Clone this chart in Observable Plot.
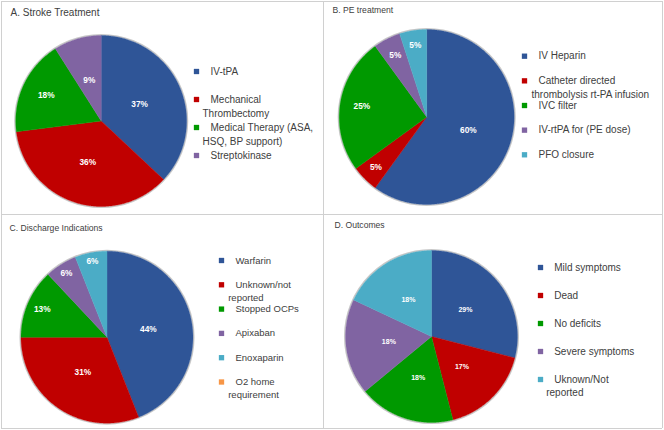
<!DOCTYPE html>
<html><head><meta charset="utf-8">
<script src="https://cdn.jsdelivr.net/npm/d3@7"></script>
<script src="https://cdn.jsdelivr.net/npm/@observablehq/plot@0.6"></script>
<style>html,body{margin:0;padding:0;background:#fff} svg{display:block}</style>
</head><body><div id="chart"></div>
<script>
// ---------- data ----------
const strokeTitle = "A. Stroke Treatment";
const strokeCategories = ["IV-tPA", "Mechanical Thrombectomy", "Medical Therapy (ASA, HSQ, BP support)", "Streptokinase"];
const strokeLegendLabels = ["IV-tPA", "Mechanical\nThrombectomy", "Medical Therapy (ASA,\nHSQ, BP support)", "Streptokinase"];
const strokeValues = [37, 36, 18, 9];

const peTitle = "B. PE treatment";
const peCategories = ["IV Heparin", "Catheter directed thrombolysis rt-PA infusion", "IVC filter", "IV-rtPA for (PE dose)", "PFO closure"];
const peLegendLabels = ["IV Heparin", "Catheter directed\nthrombolysis rt-PA infusion", "IVC filter", "IV-rtPA for (PE dose)", "PFO closure"];
const peValues = [60, 5, 25, 5, 5];

const dischargeTitle = "C. Discharge Indications";
const dischargeCategories = ["Warfarin", "Unknown/not reported", "Stopped OCPs", "Apixaban", "Enoxaparin", "O2 home requirement"];
const dischargeLegendLabels = ["Warfarin", "Unknown/not\nreported", "Stopped OCPs", "Apixaban", "Enoxaparin", "O2 home\nrequirement"];
const dischargeValues = [44, 31, 13, 6, 6, 0];

const outcomeTitle = "D. Outcomes";
const outcomeCategories = ["Mild symptoms", "Dead", "No deficits", "Severe symptoms", "Uknown/Not reported"];
const outcomeLegendLabels = ["Mild symptoms", "Dead", "No deficits", "Severe symptoms", "Uknown/Not\nreported"];
const outcomeValues = [29, 17, 18, 18, 18];

const palette = ["#2F5597", "#C00000", "#009900", "#8064A2", "#4BACC6", "#F79646"];

// ---------- layout (not data) ----------
const W = 664, H = 430;
const FONT = "'Liberation Sans', Arial, sans-serif";
const panels = [
  {title: strokeTitle, cats: strokeCategories, legend: strokeLegendLabels, values: strokeValues,
   cx: 100.7, cy: 120.5, r: 85.5, tx: 10, ty: 12, tSize: 10, lSize: 8.3, labelR: [0.49, 0.51, 0.71, 0.5],
   mx: 196, textX: 210, wrapX: 202, y0: 71, step: 28, lineH: 14, size: 10},
  {title: peTitle, cats: peCategories, legend: peLegendLabels, values: peValues,
   cx: 426.2, cy: 116.5, r: 87.5, tx: 332, ty: 10, tSize: 8.6, lSize: 8.3, labelR: [0.5, 0.82, 0.75, 0.79, 0.83],
   mx: 524, textX: 538, wrapX: 531, y0: 55.7, step: 24.65, lineH: 13.6, size: 10},
  {title: dischargeTitle, cats: dischargeCategories, legend: dischargeLegendLabels, values: dischargeValues,
   cx: 106.5, cy: 336.7, r: 86, tx: 9, ty: 227.5, tSize: 8.6, lSize: 8.3, labelR: [0.49, 0.5, 0.82, 0.88, 0.9, 0.9],
   mx: 221, textX: 235, wrapX: 227.7, y0: 260, step: 24.3, lineH: 12.8, size: 9.5},
  {title: outcomeTitle, cats: outcomeCategories, legend: outcomeLegendLabels, values: outcomeValues,
   cx: 431, cy: 336, r: 86, tx: 334, ty: 224.5, tSize: 8.6, lSize: 7, labelR: [0.5, 0.5, 0.5, 0.5, 0.5],
   mx: 540, textX: 553.7, wrapX: 545.7, y0: 267, step: 28, lineH: 13.7, size: 10}
];

// ---------- derive marks data from the arrays ----------
const sliceRows = [], labelRows = [], legendMarkers = [], legendTexts = [], titles = [], rims = [];
panels.forEach((p, pi) => {
  const arcs = d3.pie().sort(null).value(d => d)(p.values);
  rims.push({x: p.cx, y: p.cy, r: p.r});
  titles.push({x: p.tx, y: p.ty, text: p.title, size: p.tSize});
  arcs.forEach((a, i) => {
    const key = pi + "-" + i;
    if (a.endAngle - a.startAngle > 0) {
      const n = Math.max(2, Math.ceil((a.endAngle - a.startAngle) / (Math.PI / 360)));
      sliceRows.push({key, c: i, x: p.cx, y: p.cy});
      for (let k = 0; k <= n; ++k) {
        const t = a.startAngle + (a.endAngle - a.startAngle) * k / n;
        sliceRows.push({key, c: i, x: p.cx + p.r * Math.sin(t), y: p.cy - p.r * Math.cos(t)});
      }
      sliceRows.push({key, c: i, x: p.cx, y: p.cy});
      const m = (a.startAngle + a.endAngle) / 2, lr = p.r * p.labelR[i];
      labelRows.push({panel: pi, x: p.cx + lr * Math.sin(m), y: p.cy - lr * Math.cos(m), text: a.data + "%"});
    }
    const y = p.y0 + i * p.step;
    legendMarkers.push({x: p.mx, y, c: i});
    p.legend[i].split("\n").forEach((line, j) => {
      legendTexts.push({panel: pi, x: j === 0 ? p.textX : p.wrapX, y: y + j * p.lineH, text: line, size: p.size});
    });
  });
});

const labelMarks = panels.map((p, pi) => Plot.text(labelRows.filter(d => d.panel === pi), {
  x: "x", y: "y", text: "text", fill: "white", fontWeight: "bold", fontSize: p.lSize
}));
const legendTextMarks = panels.map((p, pi) => Plot.text(legendTexts.filter(d => d.panel === pi), {
  x: "x", y: "y", text: "text", textAnchor: "start", fill: "#404040", fontSize: p.size
}));
const titleMarks = titles.map(t => Plot.text([t], {
  x: "x", y: "y", text: "text", textAnchor: "start", fill: "#404040", fontSize: t.size
}));

const chart = Plot.plot({
  width: W, height: H, margin: 0,
  x: {domain: [0, W], range: [0, W], axis: null},
  y: {domain: [0, H], range: [0, H], axis: null},
  color: {type: "ordinal", domain: d3.range(palette.length), range: palette},
  style: {fontFamily: FONT, background: "#fff"},
  marks: [
    Plot.ruleX([1, 323, 662], {y1: 1, y2: 428, stroke: "#d0d0d0"}),
    Plot.ruleY([1, 214, 428], {x1: 1, x2: 662, stroke: "#d0d0d0"}),
    ...rims.map(d => Plot.dot([d], {x: "x", y: "y", r: d.r + 0.8, fill: "none", stroke: "#c8c8c8", strokeWidth: 1.5})),
    Plot.line(sliceRows, {x: "x", y: "y", z: "key", fill: "c", stroke: "c", strokeWidth: 0.4, curve: "linear"}),
    ...labelMarks,
    Plot.dot(legendMarkers, {x: "x", y: "y", fill: "c", symbol: "square", r: 3}),
    ...legendTextMarks,
    ...titleMarks
  ]
});
document.getElementById("chart").append(chart);
</script>
</body></html>
